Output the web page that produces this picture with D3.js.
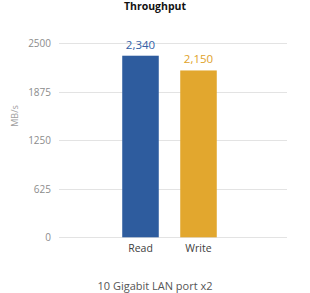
<!DOCTYPE html>
<html><head><meta charset="utf-8">
<script src="https://cdn.jsdelivr.net/npm/d3@7"></script>
<style>body{margin:0;background:#fff;}svg{display:block;}</style>
</head><body><svg id="c" width="310" height="293"></svg>
<script>
const categories = ["Read", "Write"];
const values = [2340, 2150];
const tickValues = [0, 625, 1250, 1875, 2500];
const colors = ["#2E5C9E", "#E2A72E"];
const labelColors = ["#3561A6", "#E0A22A"];

const svg = d3.select("#c");
const font = "'Open Sans', 'Noto Sans', sans-serif";
const y = d3.scaleLinear().domain([0, 2500]).range([237.3, 43.3]);
const x = d3.scaleBand().domain(categories).range([111.5, 227.5]).paddingInner(0.37).paddingOuter(0.185);

// gridlines
svg.append("g").selectAll("line").data(tickValues).join("line")
  .attr("x1", 59).attr("x2", 287)
  .attr("y1", d => Math.round(y(d)) + 0.5).attr("y2", d => Math.round(y(d)) + 0.5)
  .attr("stroke", "#e3e3e3").attr("stroke-width", 1);

// y axis labels
const yAxis = d3.axisLeft(y).tickValues(tickValues).tickFormat(d3.format("d")).tickSize(0).tickPadding(0);
const ga = svg.append("g").attr("transform", "translate(51,0)").call(yAxis);
ga.select(".domain").remove();
ga.selectAll("text").attr("font-family", font).attr("font-size", 10).attr("fill", "#8c8c8c");

// bars
svg.append("g").selectAll("rect").data(values).join("rect")
  .attr("x", (d, i) => x(categories[i]))
  .attr("width", x.bandwidth())
  .attr("y", d => y(d))
  .attr("height", d => y(0) - y(d))
  .attr("fill", (d, i) => colors[i]);

// value labels
svg.append("g").selectAll("text").data(values).join("text")
  .attr("x", (d, i) => x(categories[i]) + x.bandwidth() / 2)
  .attr("y", d => y(d) - 7)
  .attr("text-anchor", "middle")
  .attr("font-family", font).attr("font-size", 11.5)
  .attr("fill", (d, i) => labelColors[i])
  .text(d => d3.format(",")(d));

// category labels
const xAxis = d3.axisBottom(x).tickSize(0).tickPadding(0);
const gx = svg.append("g").attr("transform", "translate(0,245)").call(xAxis);
gx.select(".domain").remove();
gx.selectAll("text").attr("font-family", font).attr("font-size", 10.5).attr("fill", "#404040");

// title
svg.append("text").attr("x", 155).attr("y", 10).attr("text-anchor", "middle")
  .attr("font-family", font).attr("font-size", 10.5).attr("font-weight", "bold").attr("fill", "#111")
  .text("Throughput");

// y axis title
svg.append("text").attr("transform", "translate(18,116) rotate(-90)")
  .attr("text-anchor", "middle").attr("font-family", font).attr("font-size", 9).attr("fill", "#a0a0a0")
  .text("MB/s");

// bottom label
svg.append("text").attr("x", 155).attr("y", 290).attr("text-anchor", "middle")
  .attr("font-family", font).attr("font-size", 11).attr("fill", "#555")
  .text("10 Gigabit LAN port x2");
</script></body></html>
